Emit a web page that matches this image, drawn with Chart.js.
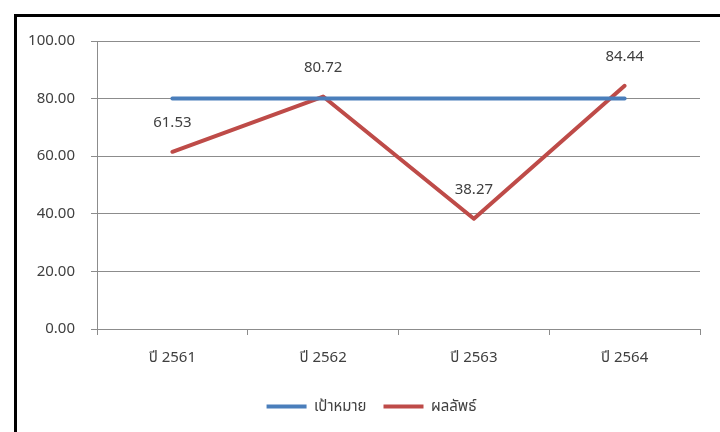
<!DOCTYPE html>
<html>
<head>
<meta charset="utf-8">
<script src="https://cdn.jsdelivr.net/npm/chart.js@4/dist/chart.umd.min.js"></script>
<style>
  html, body { margin: 0; padding: 0; background: #ffffff; }
  #wrap { width: 720px; height: 432px; position: relative; }
</style>
</head>
<body>
<div id="wrap"><canvas id="c" width="720" height="432"></canvas></div>
<script>
// Years (Buddhist era) and series values
const categories = ['ปี 2561', 'ปี 2562', 'ปี 2563', 'ปี 2564'];
const targetValues = [80, 80, 80, 80];
const resultValues = [61.53, 80.72, 38.27, 84.44];
const seriesNames = ['เป้าหมาย', 'ผลลัพธ์'];
const yTickValues = [0, 20, 40, 60, 80, 100];

const FONT = '"Noto Sans", "Noto Sans Thai", Tahoma, sans-serif';
const TEXT = '#404040';
const GRID = '#8c8c8c';

// Black frame on the top and left edges
const framePlugin = {
  id: 'frame',
  beforeDraw(chart) {
    const ctx = chart.ctx;
    ctx.save();
    ctx.fillStyle = '#000000';
    ctx.fillRect(14, 14, 720 - 14, 3);
    ctx.fillRect(14, 14, 3, 432 - 14);
    ctx.restore();
  }
};

// Legend row is centred between x=43 and the plot's right edge
const legendShift = {
  id: 'legendShift',
  afterLayout(chart) {
    if (chart.legend) chart.legend.left = 43;
  }
};

// Value labels above the result line
const valueLabels = {
  id: 'valueLabels',
  afterDatasetsDraw(chart) {
    const ctx = chart.ctx;
    const meta = chart.getDatasetMeta(1);
    ctx.save();
    ctx.font = '15px ' + FONT;
    ctx.fillStyle = TEXT;
    ctx.textAlign = 'center';
    ctx.textBaseline = 'middle';
    meta.data.forEach((pt, i) => {
      ctx.fillText(resultValues[i].toFixed(2), pt.x, pt.y - 29);
    });
    ctx.restore();
  }
};

new Chart(document.getElementById('c'), {
  type: 'line',
  data: {
    labels: categories,
    datasets: [
      {
        label: seriesNames[0],
        data: targetValues,
        borderColor: '#4a7ebb',
        backgroundColor: '#4a7ebb',
        borderWidth: 4,
        borderCapStyle: 'round',
        pointRadius: 0,
        pointHoverRadius: 0,
        pointStyle: 'line',
        tension: 0
      },
      {
        label: seriesNames[1],
        data: resultValues,
        borderColor: '#be4b48',
        backgroundColor: '#be4b48',
        borderWidth: 4,
        borderCapStyle: 'round',
        borderJoinStyle: 'round',
        pointRadius: 0,
        pointHoverRadius: 0,
        pointStyle: 'line',
        tension: 0
      }
    ]
  },
  options: {
    responsive: false,
    animation: false,
    devicePixelRatio: 1,
    layout: { padding: { left: 0, right: 20, top: 41, bottom: 8 } },
    plugins: {
      tooltip: { enabled: false },
      legend: {
        position: 'bottom',
        labels: {
          usePointStyle: true,
          pointStyleWidth: 40,
          boxHeight: 4,
          padding: 17,
          color: TEXT,
          font: { family: FONT, size: 15 }
        }
      }
    },
    scales: {
      x: {
        offset: true,
        grid: {
          offset: true,
          drawOnChartArea: false,
          drawTicks: true,
          tickLength: 6,
          color: GRID
        },
        border: { color: GRID, width: 1 },
        ticks: { color: TEXT, font: { family: FONT, size: 15 }, padding: 14 },
        afterFit(scale) { scale.height = 53; }
      },
      y: {
        min: 0,
        max: 100,
        afterBuildTicks(scale) { scale.ticks = yTickValues.map(v => ({ value: v })); },
        grid: { color: GRID, tickLength: 6, drawTicks: true },
        border: { color: GRID, width: 1 },
        ticks: {
          color: TEXT,
          font: { family: FONT, size: 15 },
          padding: 16,
          callback: (v) => Number(v).toFixed(2)
        },
        afterFit(scale) { scale.width = 97; }
      }
    }
  },
  plugins: [framePlugin, legendShift, valueLabels]
});
</script>
</body>
</html>
